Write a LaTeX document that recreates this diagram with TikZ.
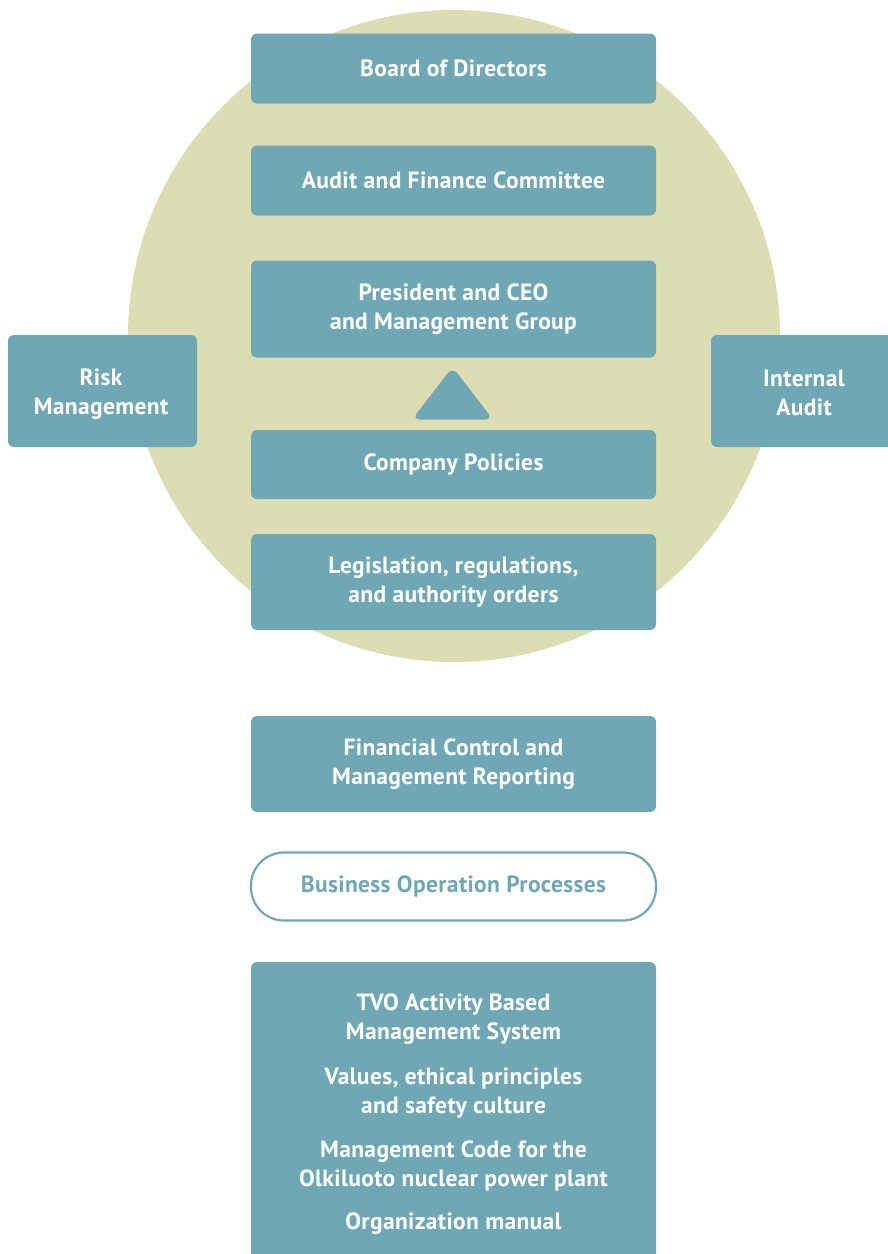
\documentclass[tikz,border=0pt]{standalone}
\usepackage{fontspec}
\setmainfont[LetterSpace=1.5]{PT Sans}
\definecolor{teal1}{RGB}{111,168,180}
\definecolor{circ}{RGB}{220,221,178}
\begin{document}
\begin{tikzpicture}[x=1pt,y=-1pt,
  txt/.style={text=white, font=\fontsize{23.5}{29}\selectfont\bfseries, align=center, inner sep=0pt},
  box/.style={txt, fill=teal1, rounded corners=6pt},
  pill/.style={draw=teal1, line width=2.2pt, fill=white, rounded corners=33pt, text=teal1, font=\fontsize{23.5}{29}\selectfont\bfseries, align=center, inner sep=0pt}]
\useasboundingbox (0,0) rectangle (888,1254);
\fill[circ] (454,336) circle (326);
\begin{scope}
\clip (0,0) rectangle (888,1254);
\node[box, minimum width=405pt, minimum height=70pt] (board) at (453.5,68.5) {Board of Directors};
\node[box, minimum width=405pt, minimum height=70pt] (audit) at (453.5,180.5) {Audit and Finance Committee};
\node[box, minimum width=405pt, minimum height=97pt] (ceo) at (453.5,309) {President and CEO\\and Management Group};
\node[box, minimum width=405pt, minimum height=69pt] (policies) at (453.5,464.5) {Company Policies};
\node[box, minimum width=405pt, minimum height=96pt] (legis) at (453.5,582) {Legislation, regulations,\\and authority orders};
\node[box, minimum width=189pt, minimum height=112pt] (risk) at (102.5,391) {};
\node[txt] (risktxt) at (101,394) {Risk\\Management};
\node[box, minimum width=190pt, minimum height=112pt] (internal) at (806,391) {};
\node[txt] (internaltxt) at (804,393) {Internal\\Audit};
\node[box, minimum width=405pt, minimum height=96pt] (fin) at (453.5,764) {Financial Control and\\Management Reporting};
\node[pill, minimum width=405pt, minimum height=68pt] (bop) at (453.5,886.5) {Business Operation Processes};
\node[box, minimum width=405pt, minimum height=310pt] (base) at (453.5,1117) {};
\fill[teal1, rounded corners=8pt] (412,419.5) -- (452.5,367) -- (493,419.5) -- cycle;
\node[txt] (tvo) at (453.5,1019) {TVO Activity Based\\Management System};
\node[txt] (values) at (453.5,1093) {Values, ethical principles\\and safety culture};
\node[txt] (code) at (453.5,1166) {Management Code for the\\Olkiluoto nuclear power plant};
\node[txt] (manual) at (453.5,1224) {Organization manual};
\end{scope}
\end{tikzpicture}
\end{document}
